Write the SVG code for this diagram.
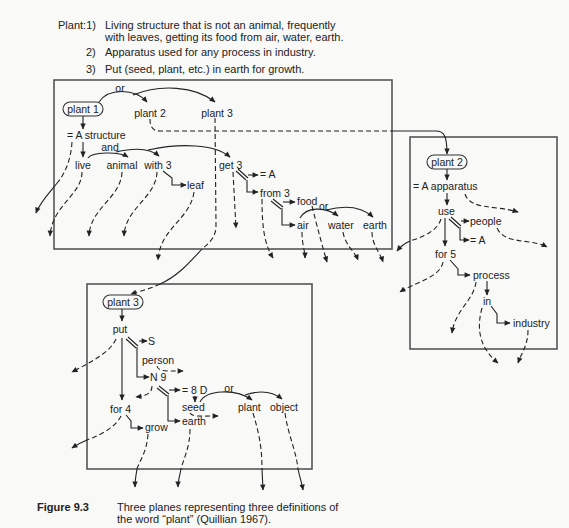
<svg xmlns="http://www.w3.org/2000/svg" width="569" height="528" viewBox="0 0 569 528">
<defs>
<marker id="ah" viewBox="0 0 10 10" refX="9" refY="5" markerWidth="7" markerHeight="6" orient="auto" markerUnits="userSpaceOnUse"><path d="M0,0.5 L10,5 L0,9.5 z" fill="#222"/></marker>
<style>
text{font-family:"Liberation Sans",Arial,sans-serif;fill:#222}
.t{font-size:11px}
.hd{font-size:11px}
.lab{font-size:10.5px}
.c{text-anchor:middle}
.box{fill:none;stroke:#555;stroke-width:1.6}
.rb{fill:none;stroke:#333;stroke-width:1.1}
.s{fill:none;stroke:#222;stroke-width:1.1}
.sa{fill:none;stroke:#222;stroke-width:1.1;marker-end:url(#ah)}
.d{fill:none;stroke:#222;stroke-width:1.1;stroke-dasharray:5,3}
.da{fill:none;stroke:#222;stroke-width:1.1;stroke-dasharray:5,3;marker-end:url(#ah)}
</style>
</defs>
<rect x="0" y="0" width="569" height="528" fill="#f9f9f8"/>

<g id="definitions">
<text class="hd" x="58" y="29">Plant:1)</text>
<text class="hd" x="105" y="29">Living structure that is not an animal, frequently</text>
<text class="hd" x="105" y="41">with leaves, getting its food from air, water, earth.</text>
<text class="hd" x="86" y="56">2)</text>
<text class="hd" x="105" y="56">Apparatus used for any process in industry.</text>
<text class="hd" x="86" y="73">3)</text>
<text class="hd" x="105" y="73">Put (seed, plant, etc.) in earth for growth.</text>
</g>

<g id="planes">
<rect id="plane1" class="box" x="54" y="80" width="338" height="169"/>
<rect id="plane2" class="box" x="410" y="137" width="147" height="212"/>
<rect id="plane3" class="box" x="87" y="284" width="225" height="185"/>
</g>

<g id="connectors">
<!-- plane 1 solid -->
<path class="sa" d="M83,116 L83,129"/>
<path class="sa" d="M83,142 L83,157"/>
<path class="sa" d="M99,102 C108,88 135,88 147,102"/>
<path class="sa" d="M133,95 C160,84 195,86 215,102"/>
<path class="sa" d="M88,158 C92,152 118,151 128,157"/>
<path class="sa" d="M116,152 C133,148 150,148 159,156"/>
<path class="sa" d="M148,150 C180,143 215,144 230,157"/>
<path class="sa" d="M163,171 L172,178 L172,185 L186,185"/>
<path class="s" d="M236,171 L246,180 M238,169 L248,178"/>
<path class="sa" d="M248,175 L258,175"/>
<path class="sa" d="M247,180 L247,192 L258,192"/>
<path class="s" d="M271,201 L281,209 M273,199 L283,207"/>
<path class="sa" d="M283,202 L295,202"/>
<path class="sa" d="M282,208 L282,225 L295,225"/>
<path class="sa" d="M300,218 C306,207 325,206 338,216"/>
<path class="sa" d="M326,210 C345,205 362,207 373,217"/>
<!-- plane 1 dashed -->
<path class="d" d="M72,142 C71,158 66,172 58,182"/>
<path class="sa" d="M58,182 C50,192 40,202 36,213"/>
<path class="da" d="M82,172 C82,195 52,205 50,236"/>
<path class="da" d="M122,172 C121,198 90,208 89,236"/>
<path class="da" d="M157,172 C156,198 125,208 124,236"/>
<path class="da" d="M194,192 C190,220 160,228 158,260"/>
<path class="da" d="M233,172 L236,228"/>
<path class="da" d="M262,199 C262,230 265,245 273,258"/>
<path class="da" d="M312,206 C318,230 322,245 327,262"/>
<path class="da" d="M302,232 C302,245 305,250 305,258"/>
<path class="da" d="M343,232 C345,245 355,252 358,260"/>
<path class="da" d="M372,232 C372,245 380,252 383,262"/>
<!-- links between planes -->
<path class="d" d="M150,119 C150,126 152,131 160,131 L392,131"/>
<path class="sa" d="M392,131 L436,131 C444,131 447,136 447,154"/>
<path class="d" d="M215,118 L216,226 C216,238 208,244 202,249"/>
<path class="s" d="M202,249 C190,262 178,276 160,284"/>
<path class="da" d="M160,284 C150,289 140,291 131,294"/>
<!-- plane 2 -->
<path class="sa" d="M447,169 L447,180"/>
<path class="sa" d="M447,193 L447,205"/>
<path class="da" d="M465,194 C470,210 495,205 518,212"/>
<path class="s" d="M449,219 L459,228 M451,217 L461,226"/>
<path class="sa" d="M461,221 L469,221"/>
<path class="sa" d="M460,227 L460,240 L469,240"/>
<path class="da" d="M497,228 C505,245 530,238 547,247"/>
<path class="sa" d="M445,218 L445,246"/>
<path class="d" d="M441,219 C437,232 420,238 410,241"/>
<path class="sa" d="M410,241 C405,243 401,246 397,251"/>
<path class="sa" d="M450,260 L458,269 L458,275 L470,275"/>
<path class="da" d="M443,262 C440,278 415,282 400,292"/>
<path class="sa" d="M487,281 L487,295"/>
<path class="sa" d="M491,306 L497,314 L497,323 L510,323"/>
<path class="da" d="M476,282 C474,300 455,310 452,333"/>
<path class="da" d="M482,308 C476,330 480,348 498,363"/>
<path class="da" d="M528,330 C528,345 522,352 518,363"/>
<!-- plane 3 -->
<path class="sa" d="M122,309 L122,321"/>
<path class="s" d="M126,339 L136,348 M128,337 L138,346"/>
<path class="sa" d="M139,341 L147,341"/>
<path class="sa" d="M137,347 L137,377 L149,377"/>
<path class="da" d="M157,366 C158,372 168,371 183,371"/>
<path class="sa" d="M122,338 L122,400"/>
<path class="da" d="M116,339 C110,352 95,360 72,372"/>
<path class="da" d="M152,386 C152,394 145,396 136,397"/>
<path class="s" d="M157,388 L167,396 M159,386 L169,394"/>
<path class="sa" d="M169,390 L180,390"/>
<path class="sa" d="M168,395 L168,421 L180,421"/>
<path class="sa" d="M195,396 L195,402"/>
<path class="da" d="M190,413 C192,417 200,416 218,416"/>
<path class="sa" d="M200,402 C206,390 235,388 252,400"/>
<path class="sa" d="M245,395 C260,390 272,391 282,399"/>
<path class="d" d="M253,413 C258,430 262,445 262,469"/>
<path class="sa" d="M262,469 L263,490"/>
<path class="d" d="M285,413 C288,435 296,450 298,469"/>
<path class="sa" d="M298,469 C300,478 302,484 303,490"/>
<path class="sa" d="M126,415 L131,421 L131,428 L143,428"/>
<path class="d" d="M148,434 C147,452 139,462 137,469"/>
<path class="sa" d="M137,469 C136,475 135,480 135,487"/>
<path class="d" d="M190,429 C190,448 183,460 181,469"/>
<path class="sa" d="M181,469 C180,475 178,480 178,487"/>
<path class="d" d="M121,416 C115,428 100,435 87,440"/>
<path class="sa" d="M87,440 C82,442 78,444 72,448"/>
</g>

<g id="n-plant1"><rect class="rb" x="63" y="102" width="40" height="14" rx="7"/><text class="lab c" x="83" y="113">plant 1</text></g>
<g id="n-plant2a"><text class="lab c" x="150" y="117">plant 2</text></g>
<g id="n-plant3a"><text class="lab c" x="217" y="117">plant 3</text></g>
<g id="n-or1"><text class="lab c" x="120" y="92">or</text></g>
<g id="n-structure"><text class="lab" x="67" y="138.5">= A structure</text></g>
<g id="n-and"><text class="lab c" x="110" y="150.5">and</text></g>
<g id="n-live"><text class="lab c" x="83" y="169">live</text></g>
<g id="n-animal"><text class="lab c" x="122" y="169">animal</text></g>
<g id="n-with3"><text class="lab c" x="158" y="169">with 3</text></g>
<g id="n-leaf"><text class="lab" x="187" y="189">leaf</text></g>
<g id="n-get3"><text class="lab" x="219" y="169">get 3</text></g>
<g id="n-eqA1"><text class="lab" x="260" y="178">= A</text></g>
<g id="n-from3"><text class="lab" x="260" y="197">from 3</text></g>
<g id="n-food"><text class="lab" x="297" y="205">food</text></g>
<g id="n-or2"><text class="lab" x="319" y="210">or</text></g>
<g id="n-air"><text class="lab" x="297" y="229">air</text></g>
<g id="n-water"><text class="lab" x="328" y="229">water</text></g>
<g id="n-earth1"><text class="lab" x="363" y="229">earth</text></g>

<g id="n-plant2"><rect class="rb" x="427" y="155" width="40" height="14" rx="7"/><text class="lab c" x="447" y="166">plant 2</text></g>
<g id="n-apparatus"><text class="lab" x="413" y="190">= A apparatus</text></g>
<g id="n-use"><text class="lab" x="438" y="215">use</text></g>
<g id="n-people"><text class="lab" x="470" y="225">people</text></g>
<g id="n-eqA2"><text class="lab" x="470" y="244">= A</text></g>
<g id="n-for5"><text class="lab" x="435" y="258">for 5</text></g>
<g id="n-process"><text class="lab" x="473" y="279">process</text></g>
<g id="n-in"><text class="lab" x="483" y="305">in</text></g>
<g id="n-industry"><text class="lab" x="513" y="327">industry</text></g>

<g id="n-plant3"><rect class="rb" x="103" y="295" width="40" height="14" rx="7"/><text class="lab c" x="123" y="306">plant 3</text></g>
<g id="n-put"><text class="lab c" x="120" y="333">put</text></g>
<g id="n-S"><text class="lab" x="148" y="345">S</text></g>
<g id="n-person"><text class="lab" x="142" y="364">person</text></g>
<g id="n-N9"><text class="lab" x="150" y="381">N 9</text></g>
<g id="n-8D"><text class="lab" x="182" y="394">= 8 D</text></g>
<g id="n-or3"><text class="lab c" x="229" y="392">or</text></g>
<g id="n-seed"><text class="lab" x="182" y="411">seed</text></g>
<g id="n-plant"><text class="lab" x="238" y="411">plant</text></g>
<g id="n-object"><text class="lab" x="270" y="411">object</text></g>
<g id="n-for4"><text class="lab" x="110" y="413">for 4</text></g>
<g id="n-grow"><text class="lab" x="145" y="431">grow</text></g>
<g id="n-earth3"><text class="lab" x="182" y="425">earth</text></g>

<g id="caption">
<text x="37" y="511" style="font-size:11px;font-weight:bold">Figure 9.3</text>
<text class="t" x="117" y="511">Three planes representing three definitions of</text>
<text class="t" x="117" y="523">the word “plant” (Quillian 1967).</text>
</g>
</svg>
